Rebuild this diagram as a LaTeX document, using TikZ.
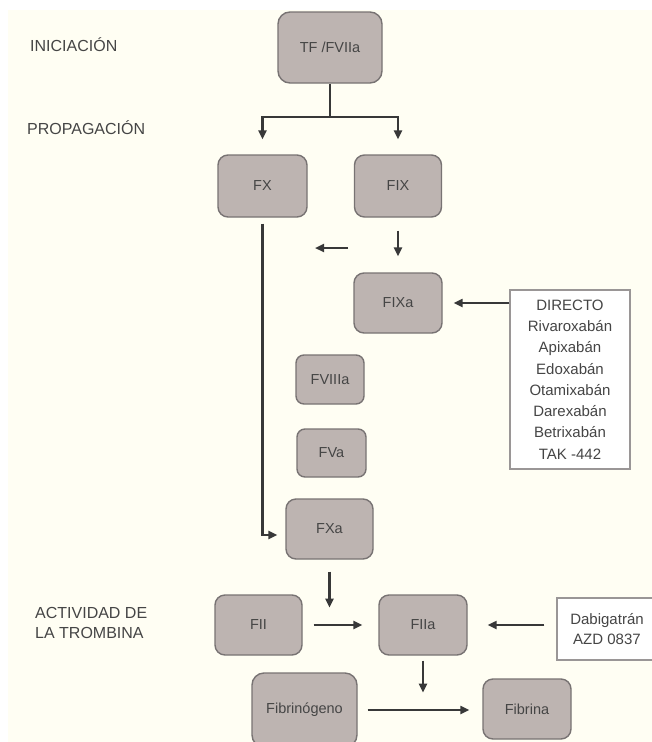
\documentclass[tikz,border=0pt]{standalone}
\usepackage{fontspec}
\setmainfont{Liberation Sans}
\usetikzlibrary{arrows.meta}
\definecolor{paper}{HTML}{FFFEF3}
\definecolor{boxfill}{HTML}{BDB4B1}
\definecolor{boxline}{HTML}{787373}
\definecolor{ink}{HTML}{454545}
\definecolor{linecol}{HTML}{383838}
\begin{document}
\begin{tikzpicture}[x=1pt, y=-1pt,
    factor/.style={draw=boxline, line width=1.4pt, fill=boxfill, rounded corners=10pt,
      text=ink, font=\fontsize{14.5}{16}\selectfont, inner sep=0pt},
    phase/.style={text=ink, font=\fontsize{16}{20}\selectfont, anchor=west, align=left, inner sep=0pt},
    drug/.style={draw=boxline!75, line width=1.2pt, fill=white, text=ink, align=center, inner sep=0pt},
    link/.style={line width=2.2pt, draw=linecol},
    arr/.style={link, -{Triangle[length=9pt,width=8pt]}}]
    % Background
    \useasboundingbox (0,0) rectangle (652,742);
    \fill[white] (0,0) rectangle (652,742);
    \fill[paper] (8,10) rectangle (652,742);
    % Phases
    \node[phase] (ini) at (30,45) {INICIACIÓN};
    \node[phase] (prop) at (27,128) {PROPAGACIÓN};
    \node[phase] (act) at (35,623) {ACTIVIDAD DE\\LA TROMBINA};
    % Factors
    \node[factor, minimum width=104pt, minimum height=71pt, rounded corners=12pt] (tf) at (330,47.5) {TF /FVIIa};
    \node[factor, minimum width=89pt, minimum height=62pt] (fx) at (262.5,186) {FX};
    \node[factor, minimum width=87pt, minimum height=62pt] (fix) at (398,186) {FIX};
    \node[factor, minimum width=88pt, minimum height=60pt] (fixa) at (398,303) {FIXa};
    \node[factor, minimum width=68pt, minimum height=49pt, rounded corners=8pt] (fviiia) at (330,379.5) {FVIIIa};
    \node[factor, minimum width=69pt, minimum height=48pt, rounded corners=8pt] (fva) at (331.5,453) {FVa};
    \node[factor, minimum width=87pt, minimum height=60pt] (fxa) at (329.5,529) {FXa};
    \node[factor, minimum width=87pt, minimum height=60pt] (fii) at (258.5,625) {FII};
    \node[factor, minimum width=88pt, minimum height=60pt] (fiia) at (423,625) {FIIa};
    \node[factor, minimum width=105pt, minimum height=74pt, rounded corners=12pt] (fbg) at (304.5,710) {Fibrinógeno};
    \node[factor, minimum width=88pt, minimum height=60pt] (fbn) at (527,709) {Fibrina};
    % Inhibitors
    \node[drug, minimum width=120pt, minimum height=179pt, font=\fontsize{15}{21.3}\selectfont] (directo) at (570,379.5)
      {DIRECTO\\Rivaroxabán\\Apixabán\\Edoxabán\\Otamixabán\\Darexabán\\Betrixabán\\TAK -442};
    \node[drug, minimum width=100pt, minimum height=62pt, font=\fontsize{15}{20}\selectfont] (dabi) at (607,629)
      {Dabigatrán\\AZD 0837};
    % Initiation
    \coordinate (split) at (330,117);
    \draw[link] (tf.south) -- (split);
    \draw[arr, shorten >=15pt] (split) -| (fx.north);
    \draw[arr, shorten >=15pt] (split) -| (fix.north);
    % Propagation
    \coordinate (backA) at (348,248);
    \coordinate (backB) at (315,248);
    \draw[arr, shorten <=13pt, shorten >=16pt] (fix.south) -- (fixa.north);
    \draw[arr] (backA) -- (backB);
    \draw[arr, shorten <=6pt, shorten >=8pt] (fx.south) |- ([yshift=-6pt]fxa.west);
    \draw[arr, shorten >=11pt] (fixa.east -| directo.west) -- (fixa.east);
    % Thrombin
    \draw[arr, shorten <=12pt] (fxa.south) -- ++(0,48);
    \draw[arr, shorten <=11pt, shorten >=16pt] (fii.east) -- (fiia.west);
    \draw[arr, shorten <=12pt, shorten >=20pt] (fiia.east -| dabi.west) -- (fiia.east);
    \draw[arr, shorten <=5pt] (fiia.south) -- ++(0,37);
    \draw[arr, shorten <=10pt, shorten >=13pt] (fbg.east) -- (fbg.east -| fbn.west);
\end{tikzpicture}
\end{document}
